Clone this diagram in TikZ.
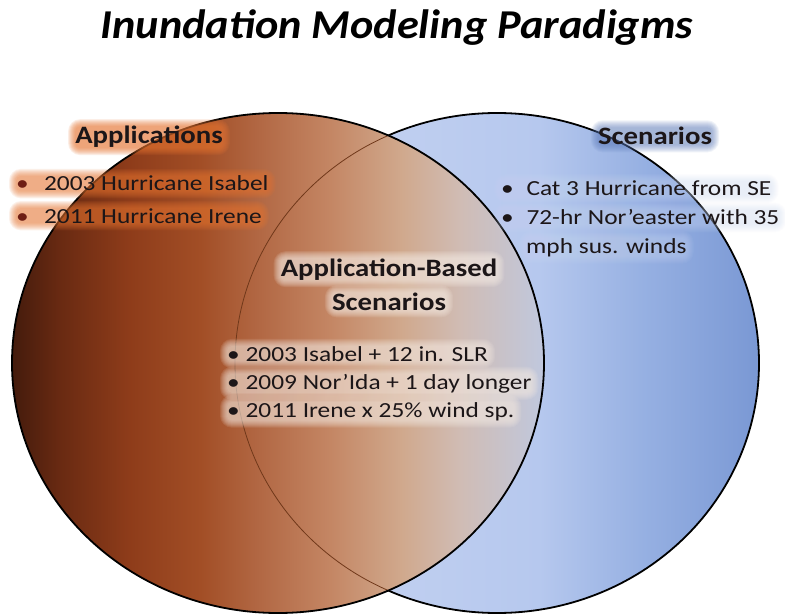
\documentclass[tikz,border=0pt]{standalone}
\usepackage{fontspec}
\usepackage{graphicx}
\setmainfont{Carlito}

% colours of the two sets
\definecolor{appA}{RGB}{68,27,12}
\definecolor{appB}{RGB}{105,42,18}
\definecolor{appC}{RGB}{142,60,26}
\definecolor{appD}{RGB}{162,78,38}
\definecolor{appE}{RGB}{178,104,68}
\definecolor{appF}{RGB}{196,134,100}
\definecolor{appG}{RGB}{208,168,140}
\definecolor{appH}{RGB}{208,188,180}
\definecolor{appI}{RGB}{192,200,222}
\definecolor{scnA}{RGB}{202,214,242}
\definecolor{scnB}{RGB}{182,200,238}
\definecolor{scnC}{RGB}{150,176,226}
\definecolor{scnD}{RGB}{122,152,212}
\definecolor{inkcol}{RGB}{28,22,24}
\definecolor{appglow}{RGB}{232,118,50}
\definecolor{appdot}{RGB}{110,30,20}
\definecolor{scnglow}{RGB}{92,122,186}
\definecolor{itemglow}{RGB}{205,218,245}
\definecolor{mixglow}{RGB}{246,236,228}
\definecolor{seamcol}{RGB}{112,56,26}

\pgfdeclarehorizontalshading{appfill}{100bp}{color(0bp)=(appA); color(25bp)=(appA);
  color(29.5bp)=(appB); color(36bp)=(appC); color(42.7bp)=(appD); color(48.3bp)=(appE);
  color(54.9bp)=(appF); color(61.5bp)=(appG); color(67.1bp)=(appH); color(75bp)=(appI);
  color(100bp)=(appI)}
\pgfdeclarehorizontalshading{scnfill}{100bp}{color(0bp)=(scnA); color(25bp)=(scnA);
  color(54bp)=(scnB); color(64bp)=(scnC); color(75bp)=(scnD); color(100bp)=(scnD)}

% layers: sets at the back, soft halos, then the text
\pgfdeclarelayer{sets}
\pgfdeclarelayer{halo}
\pgfsetlayers{sets,halo,main}

% text is set a little wider than the font's own shapes
\newcommand{\wide}[1]{\scalebox{1.18}[1]{#1}}
\newcommand{\widehead}[1]{\scalebox{1.15}[1]{#1}}
% soft glow round a text node: #1 node, #2 colour, #3 opacity of each ring
\newcommand{\halo}[3]{%
  \begin{pgfonlayer}{halo}
  \foreach \r in {0,...,7}
    \fill[#2, fill opacity=#3, rounded corners=\r pt+5pt]
      ([shift={(-\r,\r)}]#1.south west) rectangle ([shift={(\r,-\r)}]#1.north east);
  \end{pgfonlayer}}

\tikzset{
  venn/.style={draw=black, line width=1.8pt},
  seam/.style={draw=seamcol, line width=0.8pt},
  head/.style={font=\fontsize{25}{30}\selectfont\bfseries, text=inkcol, inner sep=0pt, anchor=base},
  item/.style={font=\fontsize{21.5}{26}\selectfont, text=inkcol, inner sep=0pt, anchor=base west},
}

\begin{document}
\begin{tikzpicture}[x=1pt,y=1pt,yscale=-1]
	\begin{pgfonlayer}{sets}
	\fill[white] (0,0) rectangle (785,615);
	% Scenarios set
	\shade[shading=scnfill] (497,363) ellipse [x radius=262, y radius=250];
	\draw[venn] (497,363) ellipse [x radius=262, y radius=250];
	% Applications set, laid over it
	\shade[shading=appfill] (278,363) ellipse [x radius=266, y radius=250];
	\begin{scope}
		\clip (278,363) ellipse [x radius=266, y radius=250];
		\draw[seam] (497,363) ellipse [x radius=262, y radius=250];
	\end{scope}
	\draw[venn] (278,363) ellipse [x radius=266, y radius=250];
	\end{pgfonlayer}
	\useasboundingbox (0,0) rectangle (785,615);

	% Title
	\node[font=\fontsize{41}{44}\selectfont\bfseries\itshape, text=black, inner sep=0pt, anchor=base] (title) at (397,39) {\scalebox{1.08}[1]{Inundation Modeling Paradigms}};

	% Headings
	\node[head] (apphead) at (149,144) {\widehead{Applications}};
	\node[head] (scnhead) at (655,145) {\widehead{Scenarios}};
	\node[head] (mixhead) at (389,276) {\widehead{Application-Based}};
	\node[head] (mixsub) at (389,310) {\widehead{Scenarios}};
	\halo{apphead}{appglow}{0.12}
	\halo{scnhead}{scnglow}{0.09}
	\halo{mixhead}{mixglow}{0.12}
	\halo{mixsub}{mixglow}{0.12}

	% Applications list
	\node[item] (app1) at (16,191) {\wide{\textcolor{appdot}{\textbullet}\hspace{0.6em}2003 Hurricane Isabel}};
	\node[item] (app2) at (16,223) {\wide{\textcolor{appdot}{\textbullet}\hspace{0.6em}2011 Hurricane Irene}};
	\halo{app1}{appglow}{0.10}
	\halo{app2}{appglow}{0.10}

	% Scenarios list
	\node[item] (scn1) at (501,196) {\wide{\textbullet\hspace{0.5em}Cat 3 Hurricane from SE}};
	\node[item] (scn2) at (501,225) {\wide{\textbullet\hspace{0.5em}72-hr Nor’easter with 35}};
	\node[item] (scn3) at (526,253) {\wide{mph sus. winds}};
	\halo{scn1}{itemglow}{0.06}
	\halo{scn2}{itemglow}{0.06}
	\halo{scn3}{itemglow}{0.06}

	% Application-based list
	\node[item] (mix1) at (227,361) {\wide{\textbullet\ 2003 Isabel + 12 in. SLR}};
	\node[item] (mix2) at (227,389) {\wide{\textbullet\ 2009 Nor’Ida + 1 day longer}};
	\node[item] (mix3) at (227,417) {\wide{\textbullet\ 2011 Irene x 25\% wind sp.}};
	\halo{mix1}{mixglow}{0.11}
	\halo{mix2}{mixglow}{0.11}
	\halo{mix3}{mixglow}{0.11}
\end{tikzpicture}
\end{document}
